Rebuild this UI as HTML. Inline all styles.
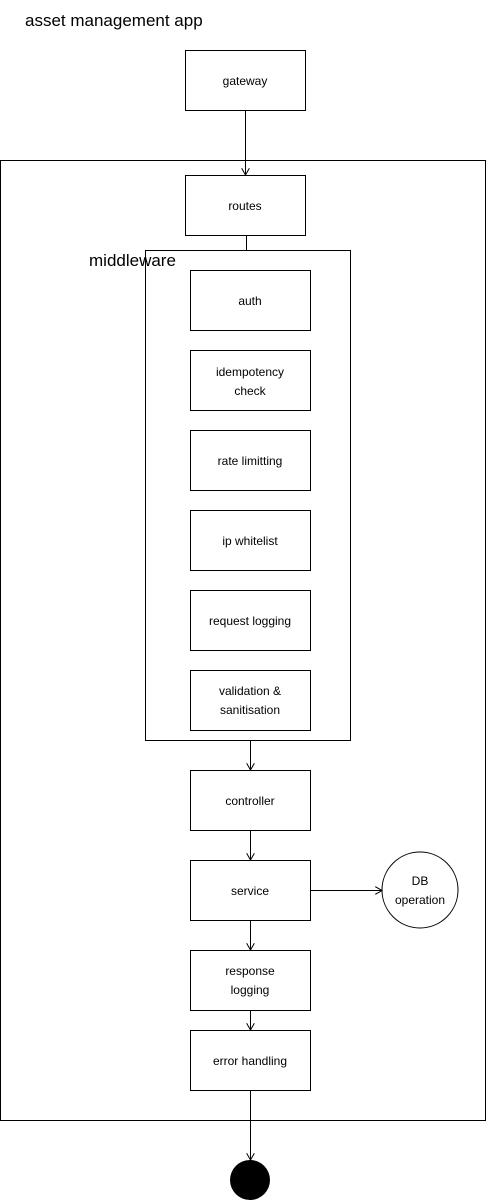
<!DOCTYPE html>
<html><head><meta charset="utf-8"><style>
html,body{margin:0;padding:0;background:#fff;}
svg{display:block;}
text{font-family:"Liberation Sans",sans-serif;fill:#000;}
</style></head><body>
<svg width="486" height="1201" viewBox="0 0 486 1201" xmlns="http://www.w3.org/2000/svg">
<defs><marker id="a" markerWidth="8" markerHeight="8" refX="7" refY="4" orient="auto" markerUnits="userSpaceOnUse"><path d="M0,0 L7,4 L0,8" fill="none" stroke="#000" stroke-width="1"/></marker></defs>
<g fill="none" stroke="#000" stroke-width="1">
<rect x="0.5" y="160.5" width="485" height="960"/>
<rect x="185.5" y="50.5" width="120" height="60"/>
<rect x="185.5" y="175.5" width="120" height="60"/>
<rect x="145.5" y="250.5" width="205" height="490"/>
<rect x="190.5" y="270.5" width="120" height="60"/>
<rect x="190.5" y="350.5" width="120" height="60"/>
<rect x="190.5" y="430.5" width="120" height="60"/>
<rect x="190.5" y="510.5" width="120" height="60"/>
<rect x="190.5" y="590.5" width="120" height="60"/>
<rect x="190.5" y="670.5" width="120" height="60"/>
<rect x="190.5" y="770.5" width="120" height="60"/>
<rect x="190.5" y="860.5" width="120" height="60"/>
<rect x="190.5" y="950.5" width="120" height="60"/>
<rect x="190.5" y="1030.5" width="120" height="60"/>
<circle cx="420" cy="890" r="38"/>
<line x1="245.5" y1="110" x2="245.5" y2="175" marker-end="url(#a)"/>
<line x1="246.5" y1="235" x2="246.5" y2="250"/>
<line x1="250.5" y1="740" x2="250.5" y2="770" marker-end="url(#a)"/>
<line x1="250.5" y1="830" x2="250.5" y2="860" marker-end="url(#a)"/>
<line x1="250.5" y1="920" x2="250.5" y2="950" marker-end="url(#a)"/>
<line x1="250.5" y1="1010" x2="250.5" y2="1030" marker-end="url(#a)"/>
<line x1="250.5" y1="1090" x2="250.5" y2="1160" marker-end="url(#a)"/>
<line x1="310" y1="890.5" x2="382" y2="890.5" marker-end="url(#a)"/>
</g>
<circle cx="250" cy="1180" r="20" fill="#000"/>
<g font-size="12" text-anchor="middle">
<text x="245" y="85">gateway</text>
<text x="245" y="210">routes</text>
<text x="250" y="305">auth</text>
<text x="250" y="376">idempotency</text>
<text x="250" y="395">check</text>
<text x="250" y="465">rate limitting</text>
<text x="250" y="545">ip whitelist</text>
<text x="250" y="625">request logging</text>
<text x="250" y="695">validation &amp;</text>
<text x="250" y="714">sanitisation</text>
<text x="250" y="805">controller</text>
<text x="250" y="895">service</text>
<text x="250" y="975">response</text>
<text x="250" y="994">logging</text>
<text x="250" y="1065">error handling</text>
<text x="420" y="885">DB</text>
<text x="420" y="904">operation</text>
</g>
<text x="25" y="26" font-size="17">asset management app</text>
<text x="89" y="266" font-size="17">middleware</text>
</svg>
</body></html>
